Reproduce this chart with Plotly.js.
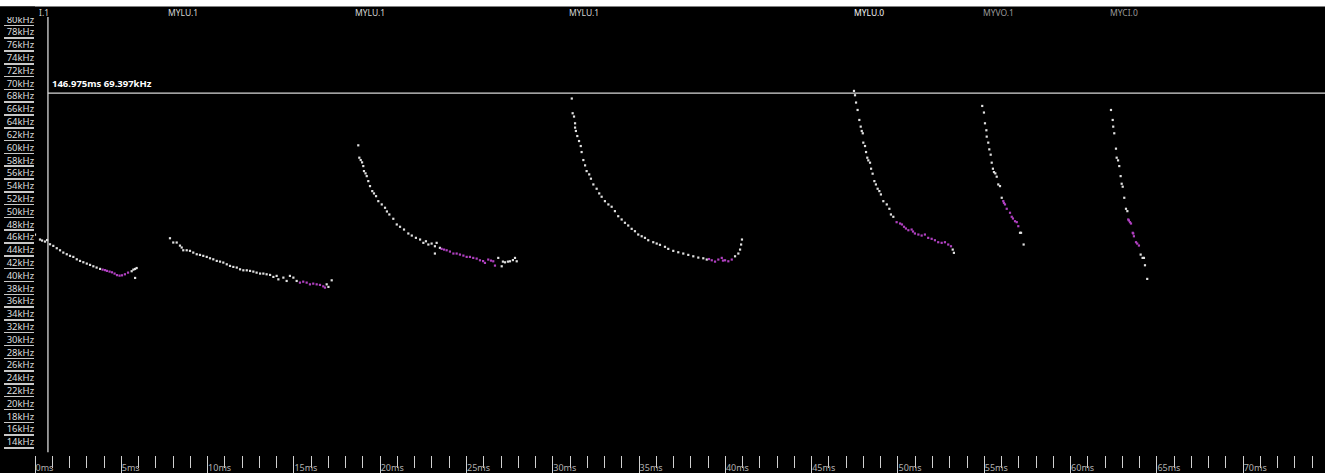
<!DOCTYPE html>
<html>
<head>
<meta charset="utf-8">
<script src="https://cdn.plot.ly/plotly-3.0.1.min.js"></script>
<style>
  html, body { margin: 0; padding: 0; background: #000; }
  #chart { width: 1325px; height: 473px; }
</style>
</head>
<body>
<div id="chart"></div>
<script>
// ---------- data (time in ms, frequency in kHz) ----------
// Call 1 (MYLU.1)
const c1BodyT = [0, 0.29, 0.41, 0.58, 0.70, 0.87, 1.06, 1.26, 1.45, 1.64, 1.84, 2.03, 2.22, 2.42, 2.61, 2.80, 3.0, 3.19, 3.38, 3.57, 3.77, 5.6, 5.7, 5.8, 5.89, 5.8];
const c1BodyF = [47.3, 46.55, 46.39, 46.23, 46.47, 45.81, 45.56, 45.19, 44.87, 44.51, 44.25, 44.0, 43.84, 43.46, 43.21, 43.0, 42.79, 42.59, 42.37, 42.17, 41.96, 41.6, 41.85, 41.95, 42.1, 40.55];
const c1CharT = [3.92, 4.06, 4.17, 4.32, 4.46, 4.61, 4.75, 4.9, 5.04, 5.21, 5.39];
const c1CharF = [41.85, 41.77, 41.65, 41.54, 41.43, 41.23, 40.99, 40.91, 40.96, 41.12, 41.38];
// Call 2 (MYLU.1)
const c2BodyT = [7.82, 8.01, 8.21, 8.4, 8.5, 8.59, 8.79, 8.98, 9.17, 9.37, 9.56, 9.75, 9.95, 10.14, 10.33, 10.53, 10.72, 10.91, 11.11, 11.3, 11.49, 11.69, 11.88, 12.07, 12.27, 12.46, 12.65, 12.84, 13.04, 13.23, 13.42, 13.62, 13.81, 14.0, 14.1, 14.39, 14.58, 14.77, 14.97, 15.16, 16.9, 17.0, 17.19];
const c2BodyF = [46.75, 46.08, 46.08, 45.6, 45.3, 44.87, 44.87, 44.78, 44.51, 44.25, 44.15, 44.0, 43.84, 43.62, 43.46, 43.21, 43.1, 42.95, 42.68, 42.43, 42.27, 42.17, 41.9, 41.74, 41.74, 41.65, 41.54, 41.38, 41.23, 41.23, 41.12, 41.02, 40.71, 40.87, 40.33, 40.6, 40.08, 40.87, 40.6, 40.08, 39.55, 39.15, 40.18];
const c2CharT = [15.35, 15.54, 15.74, 15.93, 16.12, 16.32, 16.51, 16.7, 16.8];
const c2CharF = [39.82, 39.97, 39.82, 39.55, 39.66, 39.55, 39.46, 39.24, 39.04];
// Call 3 (MYLU.1)
const c3BodyT = [18.73, 18.79, 18.87, 18.95, 19.02, 19.06, 19.15, 19.22, 19.31, 19.41, 19.54, 19.64, 19.76, 19.89, 20.09, 20.28, 20.39, 20.53, 20.76, 20.96, 21.15, 21.38, 21.63, 21.83, 22.07, 22.31, 22.5, 22.65, 22.79, 22.98, 23.17, 23.27, 23.17, 23.46, 26.84, 27.04, 27.11, 27.23, 27.4, 27.52, 27.69, 27.81, 27.91];
const c3BodyF = [61.26, 59.33, 58.96, 58.6, 58.02, 57.24, 56.88, 56.45, 55.67, 54.89, 54.11, 53.75, 53.32, 52.54, 52.03, 51.51, 50.93, 50.46, 49.79, 48.9, 48.54, 48.11, 47.49, 47.17, 46.81, 46.55, 46.03, 46.28, 45.77, 45.92, 45.5, 46.03, 44.36, 45.25, 43.68, 42.37, 43.1, 42.99, 43.1, 43.15, 43.34, 43.68, 43.15];
const c3CharT = [23.56, 23.7, 23.85, 24.04, 24.24, 24.43, 24.62, 24.82, 25.01, 25.2, 25.39, 25.59, 25.78, 25.96, 26.07, 26.26, 26.42, 26.55, 26.65];
const c3CharF = [45.09, 44.98, 44.87, 44.67, 44.36, 44.36, 44.2, 44.04, 43.84, 43.84, 43.68, 43.57, 43.31, 43.18, 42.9, 43.42, 43.26, 43.15, 42.48];
// Call 4 (MYLU.1)
const c4BodyT = [31.1, 31.15, 31.23, 31.29, 31.29, 31.34, 31.42, 31.52, 31.62, 31.67, 31.77, 31.87, 31.96, 32.11, 32.21, 32.35, 32.54, 32.69, 32.83, 33.02, 33.22, 33.41, 33.6, 33.79, 33.99, 34.18, 34.37, 34.57, 34.76, 34.95, 35.15, 35.34, 35.53, 35.82, 36.02, 36.21, 36.5, 36.69, 36.98, 37.27, 37.56, 37.85, 38.14, 38.43, 38.72, 38.92, 40.56, 40.75, 40.85, 40.91, 40.96];
const c4BodyF = [68.57, 66.27, 65.75, 64.7, 64.03, 63.5, 62.71, 61.93, 61.15, 60.21, 58.96, 58.13, 57.24, 56.72, 56.05, 55.15, 54.48, 53.75, 53.23, 52.54, 52.03, 51.67, 50.98, 50.19, 49.68, 49.16, 48.74, 48.22, 47.85, 47.33, 47.06, 46.81, 46.44, 46.13, 45.92, 45.72, 45.41, 45.09, 44.78, 44.56, 44.36, 44.15, 43.93, 43.73, 43.62, 43.42, 43.93, 44.36, 44.98, 45.77, 46.55];
const c4CharT = [39.05, 39.21, 39.4, 39.59, 39.79, 39.86, 39.98, 40.17, 40.37];
const c4CharF = [43.5, 43.31, 43.1, 43.42, 43.68, 43.26, 43.31, 43.15, 43.42];
// Call 5 (MYLU.0)
const c5BodyT = [47.45, 47.51, 47.57, 47.66, 47.76, 47.84, 47.9, 47.96, 47.99, 48.09, 48.15, 48.22, 48.28, 48.38, 48.44, 48.53, 48.63, 48.72, 48.82, 48.92, 49.01, 49.15, 49.35, 49.5, 49.59, 49.73, 53.17, 53.24];
const c5BodyF = [69.76, 69.08, 67.94, 66.78, 65.22, 64.18, 63.5, 63.14, 61.68, 61.15, 60.21, 59.33, 58.91, 58.55, 57.61, 56.83, 55.67, 55.15, 54.48, 54.11, 53.59, 52.54, 52.03, 51.35, 50.46, 50.1, 44.98, 44.47];
const c5CharT = [49.92, 50.12, 50.23, 50.35, 50.46, 50.6, 50.79, 50.87, 50.98, 51.18, 51.37, 51.56, 51.75, 51.95, 52.14, 52.33, 52.53, 52.72, 52.91, 53.07];
const c5CharF = [49.26, 49.05, 48.9, 48.54, 48.27, 48.0, 48.11, 47.8, 47.49, 47.33, 47.17, 47.33, 46.81, 46.66, 46.44, 46.13, 46.03, 46.13, 45.77, 45.5];
// Call 6 (MYVO.1)
const c6BodyT = [54.88, 54.98, 55.04, 55.12, 55.14, 55.23, 55.29, 55.37, 55.43, 55.5, 55.56, 55.64, 55.72, 55.81, 55.91, 56.01, 57.07, 57.13, 57.28];
const c6BodyF = [67.41, 66.38, 64.7, 63.61, 62.62, 61.68, 60.63, 59.8, 58.55, 57.61, 57.08, 56.88, 56.36, 55.15, 54.89, 53.07, 47.6, 47.6, 45.77];
const c6CharT = [56.1, 56.14, 56.2, 56.3, 56.49, 56.59, 56.66, 56.78, 56.88, 56.97];
const c6CharF = [52.54, 52.26, 52.03, 51.35, 50.73, 50.1, 49.83, 49.41, 49.26, 48.63];
// Call 7 (MYCI.0)
const c7BodyT = [62.34, 62.44, 62.47, 62.53, 62.63, 62.67, 62.75, 62.82, 62.9, 62.96, 63.02, 63.11, 63.21, 63.29, 64.06, 64.17, 64.25, 64.31, 64.44];
const c7BodyF = [66.78, 65.22, 64.18, 63.14, 60.74, 59.33, 58.91, 58.02, 56.45, 55.26, 54.8, 53.07, 51.35, 50.98, 44.2, 43.68, 43.68, 42.53, 40.4];
const c7CharT = [63.34, 63.38, 63.44, 63.5, 63.6, 63.63, 63.67, 63.79, 63.86, 63.96];
const c7CharF = [49.68, 49.52, 49.26, 49.05, 47.6, 47.49, 47.06, 46.13, 45.92, 45.61];

// call labels along the top (label text, start time in ms)
const callLabels = ["I.1", "MYLU.1", "MYLU.1", "MYLU.1", "MYLU.0", "MYVO.1", "MYCI.0"];
const callLabelT = [0.1, 7.59, 18.42, 30.82, 47.33, 54.81, 62.17];
const callLabelColors = ["#d0d0d0", "#d4d4d4", "#d4d4d4", "#d4d4d4", "#f4f4f4", "#999999", "#999999"];

// axis ticks
const yTickVals = [14, 16, 18, 20, 22, 24, 26, 28, 30, 32, 34, 36, 38, 40, 42, 44, 46, 48, 50, 52, 54, 56, 58, 60, 62, 64, 66, 68, 70, 72, 74, 76, 78, 80];
const yTickText = yTickVals.map(v => v + "kHz");

// cursor readout
const cursorT = 0.75;
const cursorF = 69.397;
const cursorText = "146.975ms 69.397kHz";

// ---------- traces ----------
const bodyT = [].concat(c1BodyT, c2BodyT, c3BodyT, c4BodyT, c5BodyT, c6BodyT, c7BodyT);
const bodyF = [].concat(c1BodyF, c2BodyF, c3BodyF, c4BodyF, c5BodyF, c6BodyF, c7BodyF);
const charT = [].concat(c1CharT, c2CharT, c3CharT, c4CharT, c5CharT, c6CharT, c7CharT);
const charF = [].concat(c1CharF, c2CharF, c3CharF, c4CharF, c5CharF, c6CharF, c7CharF);

const FONT = "Noto Sans, Open Sans, DejaVu Sans, sans-serif";

const traces = [
  { type: "scatter", mode: "markers", x: bodyT, y: bodyF, hoverinfo: "skip",
    marker: { symbol: "square", size: 2.2, color: "#e0e0e0", line: { width: 0 } } },
  { type: "scatter", mode: "markers", x: charT, y: charF, hoverinfo: "skip",
    marker: { symbol: "square", size: 2.2, color: "#b040c0", line: { width: 0 } } }
];

const plotH = 473 - 17 - 18;
const annotations = callLabels.map((txt, i) => ({
  x: callLabelT[i], xref: "x", y: 1 + 5 / plotH, yref: "paper",
  xanchor: "left", yanchor: "middle", showarrow: false, text: txt,
  font: { family: FONT, size: 8.5, color: callLabelColors[i] }
}));
annotations.push({
  x: cursorT + 0.1, xref: "x", y: cursorF, yref: "y", xanchor: "left", yanchor: "bottom",
  showarrow: false, text: "<b>" + cursorText + "</b>", yshift: 1,
  font: { family: FONT, size: 9.5, color: "#ffffff" }
});

const shapes = [
  // white strip at top of window
  { type: "rect", xref: "paper", yref: "paper", x0: -0.05, x1: 1.01, y0: 1 + 10.5 / plotH, y1: 1 + 17.5 / plotH,
    fillcolor: "#ffffff", line: { width: 0 }, layer: "above" },
  // header strip mask over top label panel
  { type: "rect", xref: "paper", yref: "paper", x0: -0.05, x1: 0, y0: 1, y1: 1 + 10.5 / plotH,
    fillcolor: "#000000", line: { width: 0 }, layer: "above" },
  // cursor crosshair
  { type: "line", xref: "x", yref: "paper", x0: cursorT, x1: cursorT, y0: 0.006, y1: 1,
    line: { color: "#d8d8d8", width: 1.3 } },
  { type: "line", xref: "x", yref: "y", x0: cursorT, x1: 80, y0: cursorF, y1: cursorF,
    line: { color: "#d8d8d8", width: 1.3 } }
];

const layout = {
  width: 1325, height: 473,
  margin: { l: 35, r: 0, t: 17, b: 18, pad: 0 },
  paper_bgcolor: "#000000", plot_bgcolor: "#000000",
  showlegend: false,
  font: { family: FONT, color: "#dddddd", size: 9 },
  xaxis: {
    range: [0, 74.74], tickmode: "linear", tick0: 0, dtick: 5, ticksuffix: "ms",
    ticks: "outside", ticklen: 18, tickwidth: 1, tickcolor: "#d0d0d0",
    ticklabelposition: "outside right", ticklabelstandoff: 4,
    tickfont: { family: FONT, size: 9, color: "#b0b0b0" },
    showgrid: false, zeroline: false, showline: false, fixedrange: true,
    minor: { dtick: 1, tick0: 0, ticks: "outside", ticklen: 12, tickwidth: 1, tickcolor: "#d0d0d0", showgrid: false }
  },
  yaxis: {
    range: [12.9, 81.3], tickmode: "array", tickvals: yTickVals, ticktext: yTickText,
    ticks: "outside", ticklen: 30, tickwidth: 1.5, tickcolor: "#c8c8c8",
    ticklabelshift: -6, ticklabelstandoff: -32,
    tickfont: { family: FONT, size: 9.5, color: "#dddddd" },
    showgrid: false, zeroline: false, showline: false, fixedrange: true
  },
  shapes: shapes,
  annotations: annotations
};

Plotly.newPlot("chart", traces, layout, { staticPlot: true, displayModeBar: false });
</script>
</body>
</html>
